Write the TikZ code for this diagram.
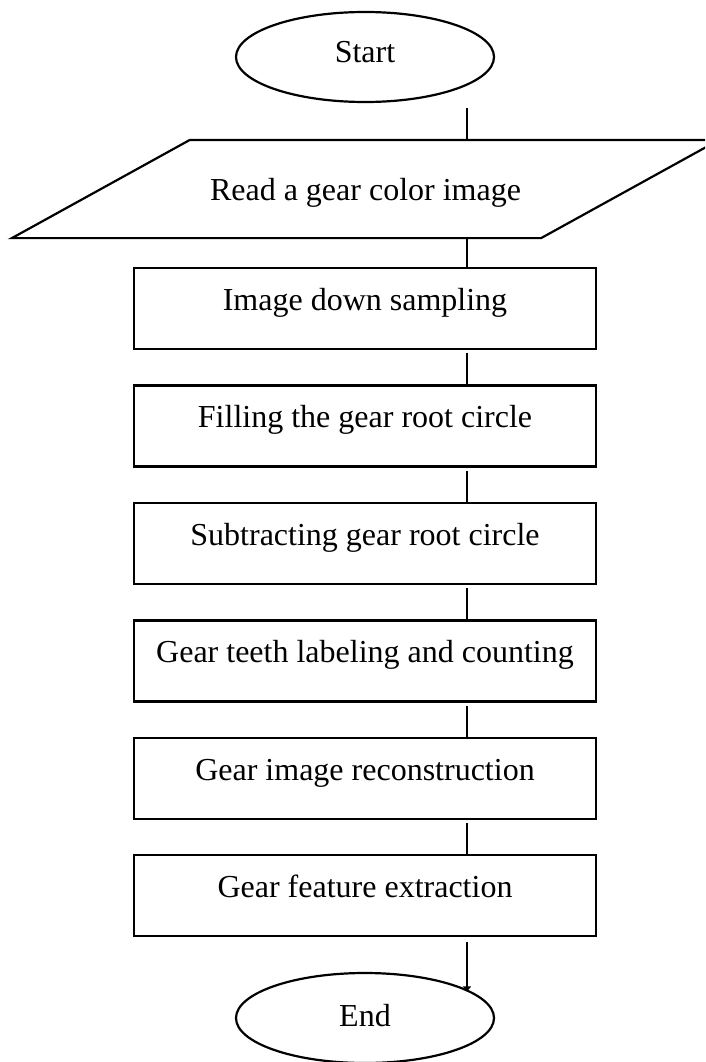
\documentclass[tikz,border=0pt]{standalone}
\usepackage{fontspec}
\setmainfont{Liberation Serif}
\usetikzlibrary{shapes.geometric,arrows.meta}
\begin{document}
\begin{tikzpicture}[x=1pt,y=-1pt, line width=2.2pt,
  every node/.style={font=\fontsize{32}{38}\selectfont, inner sep=0pt},
  term/.style={ellipse, draw, minimum width=258pt, minimum height=90pt, text height=22pt},
  procbox/.style={rectangle, draw, minimum width=462pt, minimum height=81pt, text height=22pt, text depth=19pt},
  conn/.style={line width=2.2pt},
  tip/.style={-{Triangle[length=5pt,width=8pt]}}]
\useasboundingbox (0,0) rectangle (705,1062);
\clip (0,0) rectangle (705,1062);
\coordinate (lx) at (467,0);
\node[term, text depth=10pt] (start) at (365,57) {Start};
\node[text height=22pt, text depth=0pt, minimum width=527pt, minimum height=96pt] (read) at (365.5,189) {Read a gear color image};
\draw ([xshift=-89pt]read.south west) -- ([xshift=89pt]read.north west) -- ([xshift=89pt]read.north east) -- ([xshift=-89pt]read.south east) -- cycle;
\node[procbox] (r1) at (365,308.5) {Image down sampling};
\node[procbox] (r2) at (365,426) {Filling the gear root circle};
\node[procbox] (r3) at (365,543.5) {Subtracting gear root circle};
\node[procbox] (r4) at (365,661) {Gear teeth labeling and counting};
\node[procbox] (r5) at (365,778.5) {Gear image reconstruction};
\node[procbox] (r6) at (365,895.5) {Gear feature extraction};
\node[term, text depth=6pt] (end) at (365,1018) {End};
\draw[conn] ([yshift=-5pt]start.south -| lx) -- (read.north -| lx);
\draw[conn] (read.south -| lx) -- (r1.north -| lx);
\draw[conn] ([yshift=-3pt]r1.south -| lx) -- (r2.north -| lx);
\draw[conn] ([yshift=-3pt]r2.south -| lx) -- (r3.north -| lx);
\draw[conn] ([yshift=-3pt]r3.south -| lx) -- (r4.north -| lx);
\draw[conn] ([yshift=-3pt]r4.south -| lx) -- (r5.north -| lx);
\draw[conn] ([yshift=-3pt]r5.south -| lx) -- (r6.north -| lx);
\draw[conn, tip] ([yshift=-5pt]r6.south -| lx) -- (lx |- end.14.8);
\end{tikzpicture}
\end{document}
